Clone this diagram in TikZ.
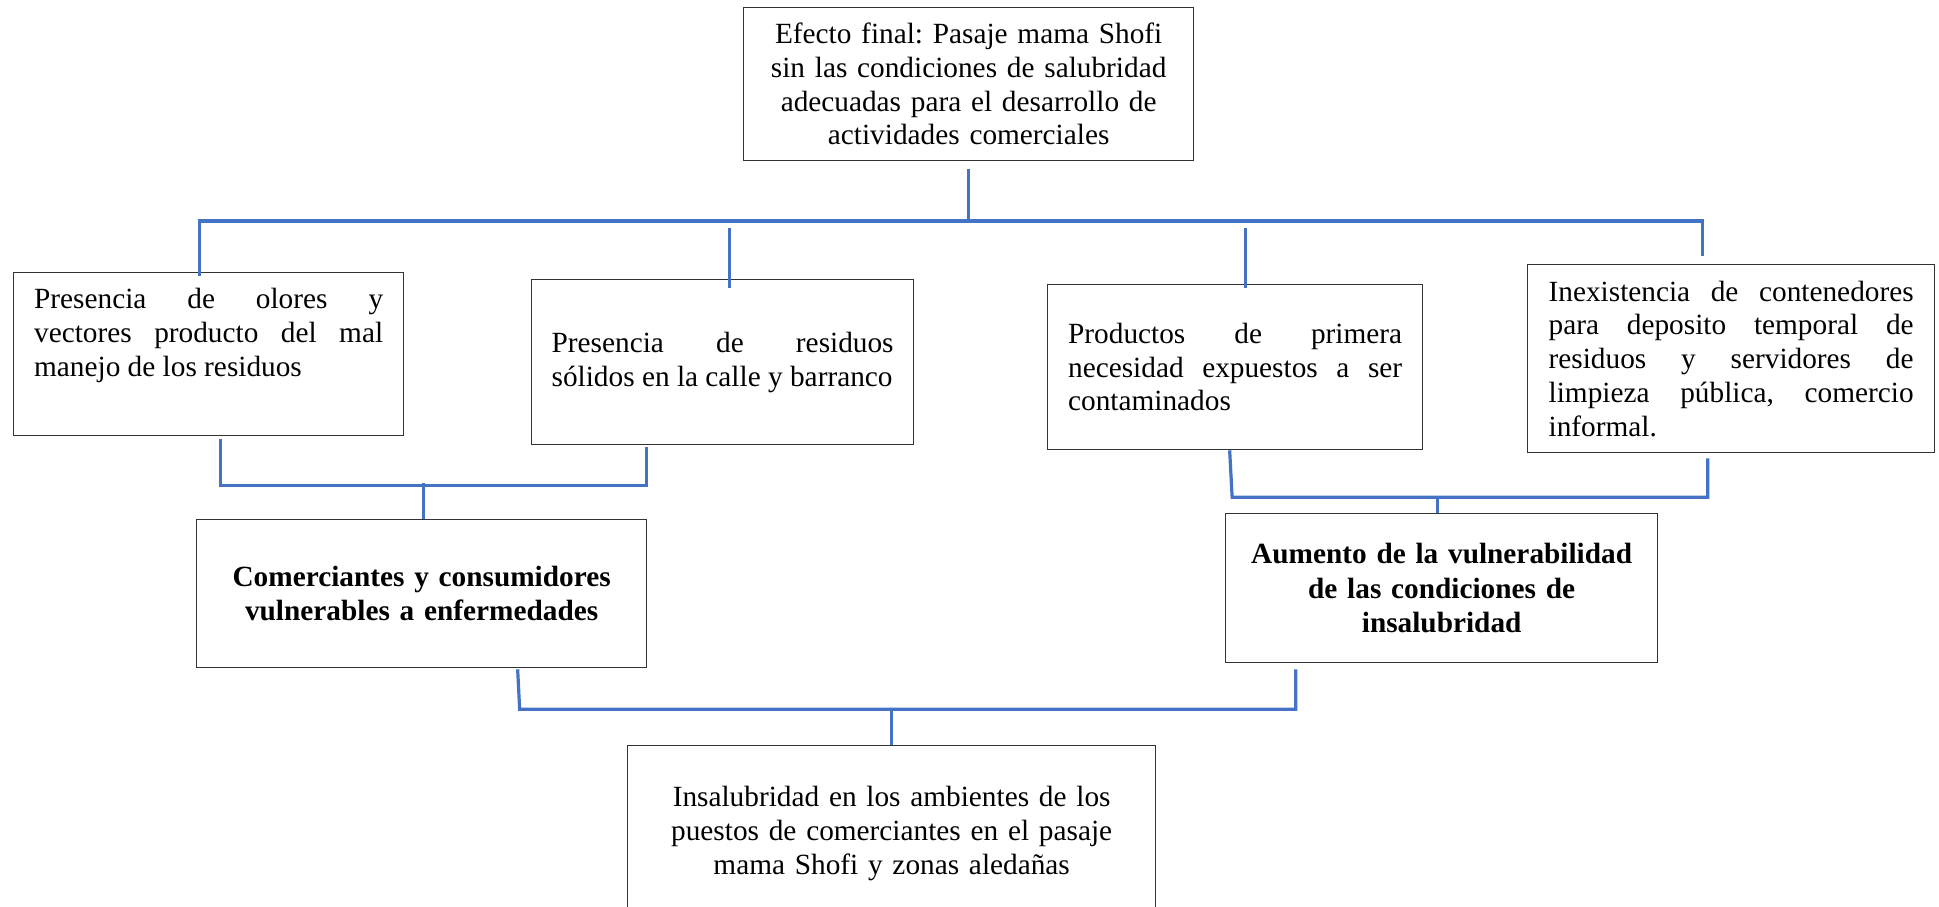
\documentclass[tikz,border=0pt]{standalone}
\usepackage{fontspec}
\setmainfont{Liberation Serif}
\usetikzlibrary{positioning}
\definecolor{linkblue}{RGB}{68,114,196}
\tikzset{
    box/.style = {rectangle, draw=black!80, line width=1.3pt, anchor=north west, inner ysep=0pt, font=\fontsize{29.3}{33.7}\selectfont\frenchspacing},
    boxc/.style = {box, align=center},
    boxj/.style = {box, align=justify},
    boxb/.style = {box, align=center, font=\fontsize{29.3}{34.5}\selectfont\bfseries\frenchspacing},
    link/.style = {line width=3.2pt, draw=linkblue},
}

\begin{document}
\begin{tikzpicture}[x=1pt,y=-1pt]
\path[use as bounding box] (0,0) rectangle (1939,906);
\clip (0,0) rectangle (1939,906);
% effect on top
\node[boxc, text width=420pt, inner xsep=15pt, minimum height=153pt] at (743,7) (efecto)
  {Efecto final: Pasaje mama Shofi\\ sin las condiciones de salubridad\\ adecuadas para el desarrollo de\\ actividades comerciales};
% first row
\node[boxj, text width=349pt, inner xsep=20.5pt, minimum height=163pt] at (13,272) (olores)
  {Presencia de olores y\linebreak vectores producto del mal\linebreak manejo de los residuos\par\vspace{10pt}\hbox{}};
\node[boxj, text width=342pt, inner xsep=20pt, minimum height=165pt] at (531,279) (residuos)
  {Presencia de residuos\linebreak s\'olidos en la calle y barranco};
\node[boxj, text width=334pt, inner xsep=20.5pt, minimum height=165pt] at (1047,284) (productos)
  {Productos de primera\linebreak necesidad expuestos a ser\linebreak contaminados};
\node[boxj, text width=365pt, inner xsep=21pt, minimum height=188pt] at (1527,264) (contenedores)
  {Inexistencia de contenedores\linebreak para deposito temporal de\linebreak residuos y servidores de\linebreak limpieza p\'ublica, comercio\linebreak informal.};
% second row
\node[boxb, text width=410pt, inner xsep=20pt, minimum height=148pt] at (196,519) (comerciantes)
  {Comerciantes y consumidores\\ vulnerables a enfermedades};
\node[boxb, text width=392pt, inner xsep=20pt, minimum height=149pt] at (1225,513) (aumento)
  {Aumento de la vulnerabilidad\\ de las condiciones de\\ insalubridad};
% root cause
\node[boxc, text width=480pt, inner xsep=24pt, minimum height=176pt] at (627,745) (insalubridad)
  {Insalubridad en los ambientes de los\\ puestos de comerciantes en el pasaje\\ mama Shofi y zonas aleda\~nas};
%
\draw[link] ([yshift=-8]efecto.south) -- ++(0,52);
\draw[link] ([xshift=-9,yshift=-4]olores.north) |- ([xshift=-28.5,yshift=43]contenedores.north) -- ++(0,35);
\draw[link] ([xshift=7,yshift=-9]residuos.north) -- ++(0,-60);
\draw[link] ([xshift=10.5,yshift=-4]productos.north) -- ++(0,-60);
%
\draw[link] ([xshift=12,yshift=-3]olores.south) -- ++(0,46) -| ([xshift=-76,yshift=-2]residuos.south);
\draw[link] ([xshift=2]comerciantes.north) -- ++(0,-36);
\draw[link] ([xshift=-5.5]productos.south) -- ++(2.5,47) -| ([xshift=-23.5,yshift=-5]contenedores.south);
\draw[link] ([xshift=-4]aumento.north) -- ++(0,-17);
%
\draw[link] ([xshift=96,yshift=-1]comerciantes.south) -- ++(2,40) -| ([xshift=-146,yshift=-6]aumento.south);
\draw[link] (insalubridad.north) -- ++(0,-37);
\end{tikzpicture}
\end{document}
